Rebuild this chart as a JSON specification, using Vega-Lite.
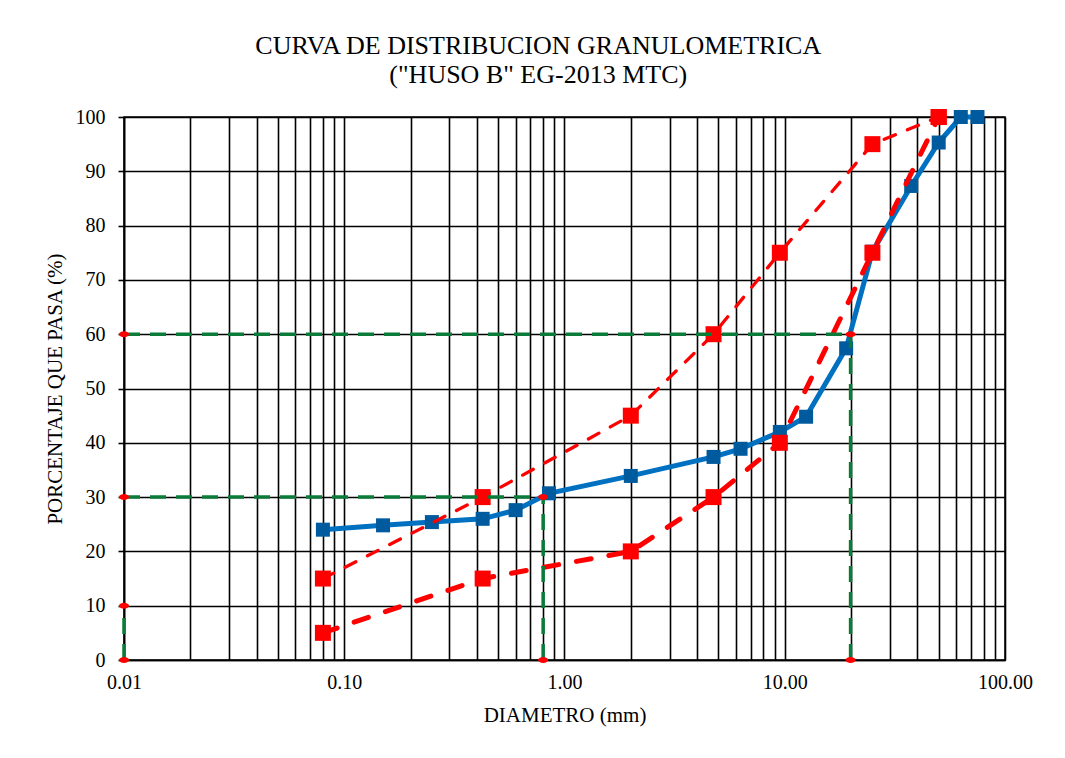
{
  "$schema": "https://vega.github.io/schema/vega-lite/v6.json",
  "autosize": {"type": "none"},
  "width": 881,
  "height": 543,
  "padding": {"left": 124, "top": 117, "right": 60, "bottom": 98},
  "background": "white",
  "title": {
    "text": ["CURVA DE DISTRIBUCION GRANULOMETRICA", "(\"HUSO B\" EG-2013 MTC)"],
    "font": "Liberation Serif",
    "fontSize": 26,
    "fontWeight": "normal",
    "color": "#000000",
    "lineHeight": 29,
    "anchor": "middle",
    "frame": "bounds",
    "offset": 19
  },
  "config": {
    "view": {"stroke": "#000000", "strokeWidth": 1.5},
    "axis": {
      "labelFont": "Liberation Serif",
      "titleFont": "Liberation Serif",
      "labelFontSize": 20,
      "titleFontSize": 21,
      "titleFontWeight": "normal",
      "labelColor": "#000000",
      "titleColor": "#000000",
      "domainColor": "#000000",
      "domainWidth": 1.6,
      "gridColor": "#000000",
      "gridOpacity": 1,
      "gridWidth": 1.6,
      "tickColor": "#000000",
      "tickWidth": 1.6
    }
  },
  "datasets": {
    "muestra": [
      {"d": 75, "p": 100},
      {"d": 63, "p": 100},
      {"d": 50, "p": 95.3},
      {"d": 37.5, "p": 87.3},
      {"d": 25, "p": 75.2},
      {"d": 19, "p": 57.4},
      {"d": 12.5, "p": 44.8},
      {"d": 9.5, "p": 42.0},
      {"d": 6.3, "p": 38.9},
      {"d": 4.75, "p": 37.4},
      {"d": 2.0, "p": 33.9},
      {"d": 0.85, "p": 30.7},
      {"d": 0.6, "p": 27.6},
      {"d": 0.425, "p": 26.0},
      {"d": 0.25, "p": 25.4},
      {"d": 0.15, "p": 24.8},
      {"d": 0.08, "p": 24.0}
    ],
    "huso": [
      {"d": 50, "p": 100, "lim": "sup"},
      {"d": 25, "p": 95, "lim": "sup"},
      {"d": 9.5, "p": 75, "lim": "sup"},
      {"d": 4.75, "p": 60, "lim": "sup"},
      {"d": 2.0, "p": 45, "lim": "sup"},
      {"d": 0.425, "p": 30, "lim": "sup"},
      {"d": 0.08, "p": 15, "lim": "sup"},
      {"d": 50, "p": 100, "lim": "inf"},
      {"d": 25, "p": 75, "lim": "inf"},
      {"d": 9.5, "p": 40, "lim": "inf"},
      {"d": 4.75, "p": 30, "lim": "inf"},
      {"d": 2.0, "p": 20, "lim": "inf"},
      {"d": 0.425, "p": 15, "lim": "inf"},
      {"d": 0.08, "p": 5, "lim": "inf"}
    ],
    "refs": [
      {"x": 0.01, "x2": 19.9, "y": 60, "y2": 60},
      {"x": 19.9, "x2": 19.9, "y": 0, "y2": 60},
      {"x": 0.01, "x2": 0.8, "y": 30, "y2": 30},
      {"x": 0.8, "x2": 0.8, "y": 0, "y2": 30},
      {"x": 0.01, "x2": 0.01, "y": 0, "y2": 10}
    ],
    "puntos": [
      {"d": 0.01, "p": 60},
      {"d": 19.9, "p": 60},
      {"d": 19.9, "p": 0},
      {"d": 0.01, "p": 30},
      {"d": 0.8, "p": 30},
      {"d": 0.8, "p": 0},
      {"d": 0.01, "p": 10},
      {"d": 0.01, "p": 0}
    ]
  },
  "layer": [
    {
      "data": {"name": "muestra"},
      "mark": {"type": "line", "color": "#0070C0", "strokeWidth": 5, "clip": false},
      "encoding": {
        "x": {
          "field": "d",
          "type": "quantitative",
          "scale": {"type": "log", "domain": [0.01, 100], "nice": false},
          "axis": {
            "title": "DIAMETRO (mm)",
            "values": [0.01, 0.02, 0.03, 0.04, 0.05, 0.06, 0.07, 0.08, 0.09, 0.1, 0.2, 0.3, 0.4, 0.5, 0.6, 0.7, 0.8, 0.9, 1, 2, 3, 4, 5, 6, 7, 8, 9, 10, 20, 30, 40, 50, 60, 70, 80, 90, 100],
            "labelExpr": "abs(log(datum.value)/LN10 - round(log(datum.value)/LN10)) < 0.000001 ? format(datum.value, '.2f') : ''",
            "tickSize": 0,
            "labelPadding": 12,
            "titlePadding": 12,
            "grid": true,
            "labelFlush": false,
            "labelOverlap": false
          }
        },
        "y": {
          "field": "p",
          "type": "quantitative",
          "scale": {"domain": [0, 100], "nice": false},
          "axis": {
            "title": "PORCENTAJE QUE PASA (%)",
            "values": [0, 10, 20, 30, 40, 50, 60, 70, 80, 90, 100],
            "tickSize": 6,
            "labelPadding": 13,
            "titlePadding": 10,
            "grid": true
          }
        }
      }
    },
    {
      "data": {"name": "muestra"},
      "mark": {"type": "point", "shape": "square", "filled": true, "size": 196, "color": "#005A9E", "opacity": 1, "clip": false},
      "encoding": {
        "x": {"field": "d", "type": "quantitative"},
        "y": {"field": "p", "type": "quantitative"}
      }
    },
    {
      "data": {"name": "huso"},
      "transform": [{"filter": "datum.lim == 'sup'"}],
      "mark": {"type": "line", "color": "#FF0000", "strokeWidth": 3.3, "strokeDash": [12, 13], "strokeCap": "round"},
      "encoding": {
        "x": {"field": "d", "type": "quantitative"},
        "y": {"field": "p", "type": "quantitative"}
      }
    },
    {
      "data": {"name": "huso"},
      "transform": [{"filter": "datum.lim == 'inf'"}],
      "mark": {"type": "line", "color": "#FF0000", "strokeWidth": 5, "strokeDash": [15, 18], "strokeCap": "round"},
      "encoding": {
        "x": {"field": "d", "type": "quantitative"},
        "y": {"field": "p", "type": "quantitative"}
      }
    },
    {
      "data": {"name": "huso"},
      "mark": {"type": "point", "shape": "square", "filled": true, "size": 256, "color": "#FF0000", "opacity": 1, "clip": false},
      "encoding": {
        "x": {"field": "d", "type": "quantitative"},
        "y": {"field": "p", "type": "quantitative"}
      }
    },
    {
      "data": {"name": "refs"},
      "mark": {"type": "rule", "color": "#0B7B3A", "strokeWidth": 3.5, "strokeDash": [16, 10]},
      "encoding": {
        "x": {"field": "x", "type": "quantitative"},
        "x2": {"field": "x2"},
        "y": {"field": "y", "type": "quantitative"},
        "y2": {"field": "y2"}
      }
    },
    {
      "data": {"name": "puntos"},
      "mark": {"type": "point", "shape": "M -1 0 A 1 0.6 0 1 0 1 0 A 1 0.6 0 1 0 -1 0 Z", "filled": true, "size": 100, "color": "#FF0000", "opacity": 1, "clip": false},
      "encoding": {
        "x": {"field": "d", "type": "quantitative"},
        "y": {"field": "p", "type": "quantitative"}
      }
    }
  ]
}
